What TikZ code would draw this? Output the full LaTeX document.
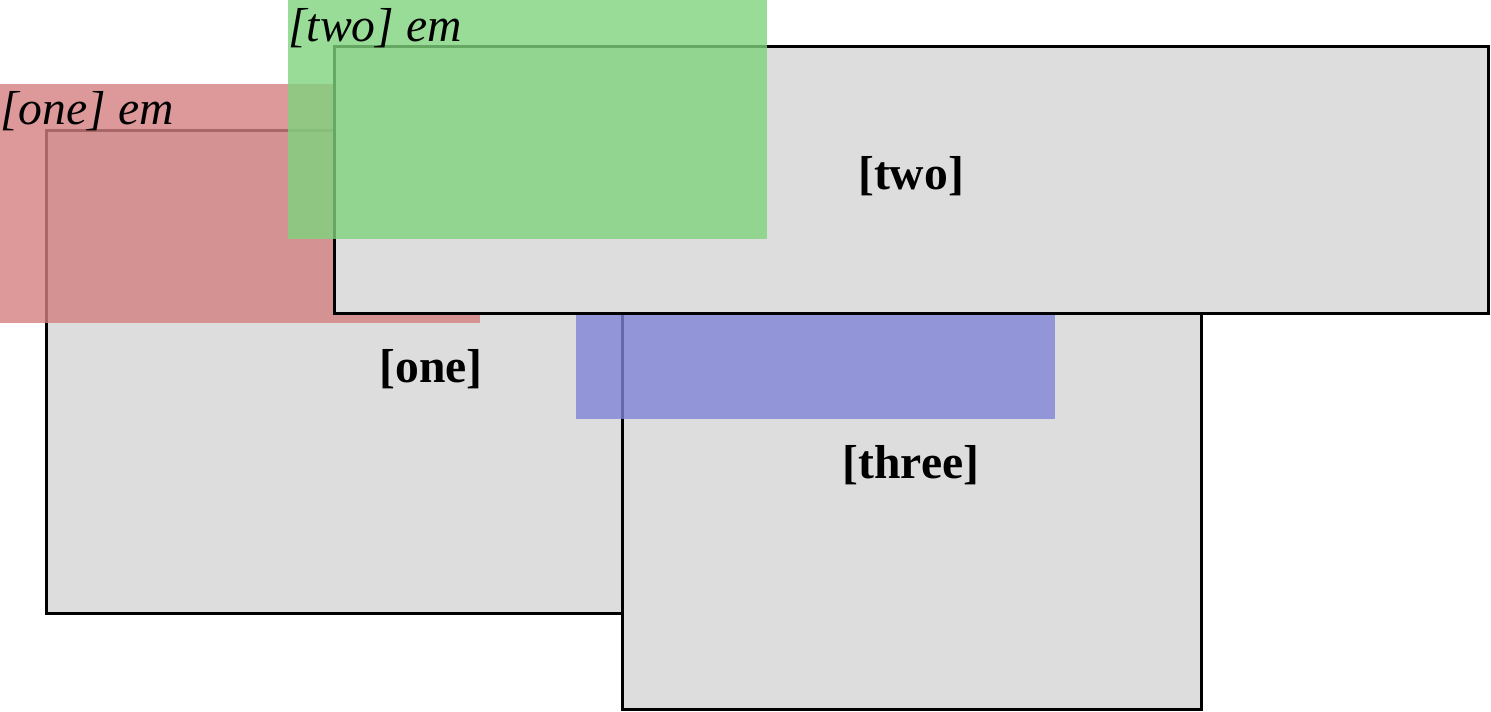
\documentclass[tikz,border=0pt]{standalone}
\usepackage{fontspec}
\setmainfont{Liberation Serif}
\usepackage{xcolor}
\definecolor{boxgray}{RGB}{221,221,221}
\definecolor{emred}{RGB}{212,128,128}
\definecolor{emgreen}{RGB}{126,211,126}
\definecolor{emblue}{RGB}{128,131,215}

\tikzset{
  frame/.style={draw=black, line width=1.5pt, fill=boxgray},
  emarea/.style={opacity=.8},
  emlabel/.style={anchor=base west, inner sep=0pt, font=\fontsize{23.8}{28}\selectfont\itshape},
  boxlabel/.style={anchor=base, inner sep=0pt, font=\fontsize{23.8}{28}\selectfont\bfseries}
}

\begin{document}
\begin{tikzpicture}[x=0.5pt, y=-0.5pt]
	\useasboundingbox (0,0) rectangle (1491,711);
	% box one and its em area
	\draw[frame] (46.5,130.5) rectangle (815,613.5);
	\node[boxlabel] (one) at (431,382) {[one]};
	\fill[emred, emarea] (0,84) rectangle (480,323);
	\node[emlabel] (oneem) at (0,125) {[one] em};
	% box three and its em area
	\draw[frame] (622.5,313.5) rectangle (1201.5,709.5);
	\node[boxlabel] (three) at (911,478) {[three]};
	\fill[emblue, emarea] (576,267) rectangle (1055,419);
	% box two and its em area
	\draw[frame] (334.5,46.5) rectangle (1488.5,313.5);
	\node[boxlabel] (two) at (911,190) {[two]};
	\fill[emgreen, emarea] (288,0) rectangle (767,239);
	\node[emlabel] (twoem) at (288,42) {[two] em};
\end{tikzpicture}
\end{document}
